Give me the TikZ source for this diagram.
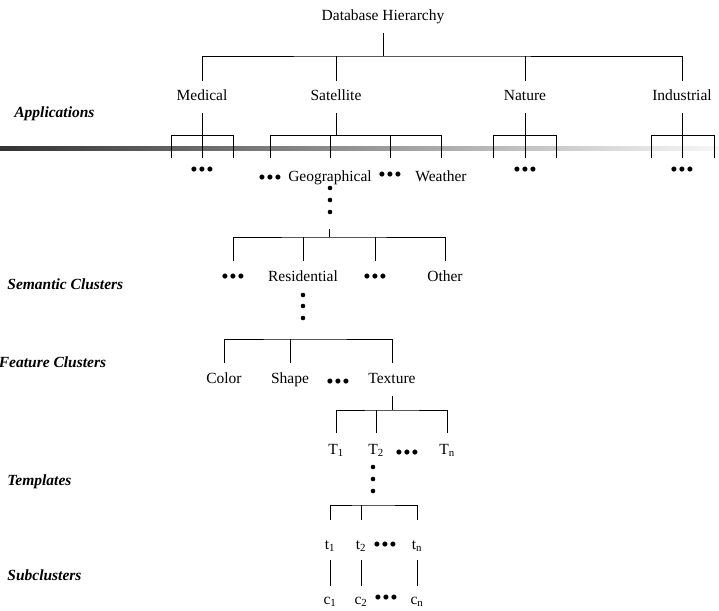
\documentclass[tikz,border=0pt]{standalone}
\usepackage{fontspec}
\setmainfont{Liberation Serif}
\newcommand{\threedots}{{\fontsize{21}{21}\selectfont
  \textbullet\kern0.6pt\textbullet\kern0.6pt\textbullet}}

\begin{document}
\begin{tikzpicture}[x=1pt, y=-1pt, line width=0.8pt,
    every node/.style={inner sep=0pt, text height=10pt, text depth=3pt,
      anchor=base, font=\fontsize{15.5}{18}\selectfont},
    leaf/.style={outer ysep=#1}, leaf/.default=10pt,
    levelname/.style={anchor=base west,
      font=\fontsize{15.5}{18}\selectfont\bfseries\itshape},
    vdot/.style={radius=2.3pt}]
  \useasboundingbox (0,0) rectangle (719,610);

  % fading band behind the applications
  \shade[left color=black!80, right color=black!3] (0,146) rectangle (719,150);

  % level names
  \node[levelname] (lapp) at (14,117) {Applications};
  \node[levelname] (lsem) at (7,289) {Semantic Clusters};
  \node[levelname] (lfea) at (-1.5,367) {Feature Clusters};
  \node[levelname] (ltem) at (7,485) {Templates};
  \node[levelname] (lsub) at (7,580) {Subclusters};

  % root and applications
  \node[leaf=9pt] (db) at (383,21) {Database Hierarchy};
  \coordinate (top) at (383,56);
  \node[leaf=9.5pt] (med) at (202,100) {Medical};
  \node[leaf=9.5pt] (sat) at (336,100) {Satellite};
  \node[leaf=9.5pt] (nat) at (525,100) {Nature};
  \node[leaf=9.5pt] (ind) at (682,100) {Industrial};

  \draw (db.south) -- (top);
  \draw (med.north) |- (top) -| (ind.north);
  \draw (sat.north) -- (sat.north |- top);
  \draw (nat.north) -- (nat.north |- top);

  % children of the applications
  \node[leaf=8pt] (medDots) at (202,176) {\threedots};
  \node[leaf=8pt] (natDots) at (525,176) {\threedots};
  \node[leaf=8pt] (indDots) at (682,176) {\threedots};
  \coordinate (medL) at (171,158);
  \coordinate (medR) at (233,158);
  \coordinate (natL) at (493,158);
  \coordinate (natR) at (556,158);
  \coordinate (indL) at (651,158);
  \coordinate (indR) at (714,158);

  \draw (med.south) -- (medDots.north);
  \draw (medL) -- ++(0,-23) -| (medR);
  \draw (nat.south) -- (natDots.north);
  \draw (natL) -- ++(0,-23) -| (natR);
  \draw (ind.south) -- (indDots.north);
  \draw (indL) -- ++(0,-23) -| (indR);

  \node[leaf=16pt] (satDotsA) at (270,184) {\threedots};
  \node[leaf=13pt] (geo) at (330,181) {Geographical};
  \node[leaf=13pt] (satDotsB) at (390,181) {\threedots};
  \node[leaf=13pt] (wea) at (441,181) {Weather};

  \draw (sat.south) -- ++(0,23) coordinate (satbar);
  \draw (satDotsA.north) |- (satbar) -| (wea.north);
  \draw (geo.north) -- (geo.north |- satbar);
  \draw (satDotsB.north) -- (satDotsB.north |- satbar);

  % semantic clusters
  \foreach \y in {188,200,212}
    \fill (geo.south |- 0,\y) circle[vdot];
  \coordinate (geobar) at (329,237);
  \node[leaf=12pt] (semDotsA) at (233,283) {\threedots};
  \node[leaf] (res) at (303,281) {Residential};
  \node[leaf=12pt] (semDotsB) at (375,283) {\threedots};
  \node[leaf] (oth) at (445,281) {Other};

  \draw (geobar) -- ++(0,-8);
  \draw (semDotsA.north) |- (geobar) -| (oth.north);
  \draw (res.north) -- (res.north |- geobar);
  \draw (semDotsB.north) -- (semDotsB.north |- geobar);

  % feature clusters
  \foreach \y in {295,306,318}
    \fill (res.south |- 0,\y) circle[vdot];
  \coordinate (resbar) at (302,339);
  \node[leaf] (col) at (224,383) {Color};
  \node[leaf] (shp) at (290,383) {Shape};
  \node[leaf] (featDots) at (338,388) {\threedots};
  \node[leaf] (tex) at (392,383) {Texture};

  \draw (col.north) |- (resbar) -| (tex.north);
  \draw (shp.north) -- (shp.north |- resbar);

  % templates
  \node[leaf=11pt] (T1) at (336,454) {T\textsubscript{1}};
  \node[leaf=11pt] (T2) at (376,454) {T\textsubscript{2}};
  \node[leaf=11pt] (TDots) at (407,459) {\threedots};
  \node[leaf=11pt] (Tn) at (447,454) {T\textsubscript{n}};

  \draw (tex.south) -- ++(0,14) coordinate (texbar);
  \draw (T1.north) |- (texbar) -| (Tn.north);
  \draw (T2.north) -- (T2.north |- texbar);

  % subclusters
  \foreach \y in {467,479,491}
    \fill (373,\y) circle[vdot];
  \coordinate (T2bar) at (373,505);
  \node[leaf=8pt] (t1) at (330,549) {t\textsubscript{1}};
  \node[leaf=8pt] (t2) at (361,549) {t\textsubscript{2}};
  \node[leaf=8pt] (tDots) at (385,551) {\threedots};
  \node[leaf=8pt] (tn) at (417,549) {t\textsubscript{n}};

  \draw[shorten <=11pt, shorten >=11pt] (t1.north) |- (T2bar) -| (tn.north);
  \draw[shorten <=11pt] (t2.north) -- (t2.north |- T2bar);

  \node[leaf=8pt] (c1) at (330,604) {c\textsubscript{1}};
  \node[leaf=8pt] (c2) at (361,604) {c\textsubscript{2}};
  \node[leaf=0pt, text depth=0pt] (cDots) at (386,604) {\threedots};
  \node[leaf=8pt] (cn) at (417,604) {c\textsubscript{n}};

  \draw (t1.south) -- (c1.north);
  \draw (t2.south) -- (c2.north);
  \draw (tn.south) -- (cn.north);
\end{tikzpicture}
\end{document}
